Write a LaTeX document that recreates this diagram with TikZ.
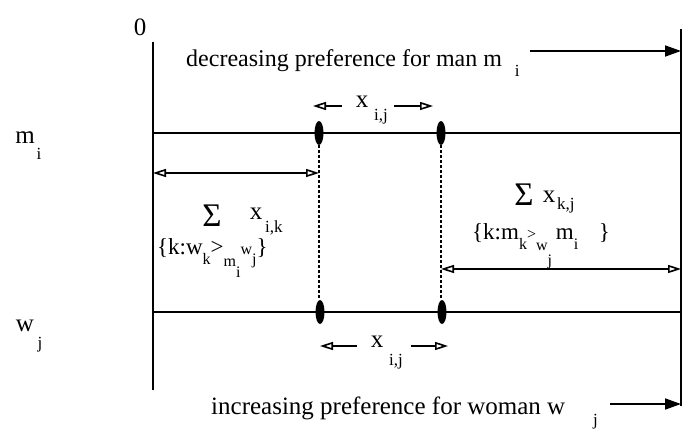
\documentclass[tikz,border=0pt]{standalone}
\usepackage{fontspec}
\setmainfont{Liberation Serif}
\usetikzlibrary{arrows.meta,shapes.geometric}
\newcommand\lo[2][0.4em]{\raisebox{-#1}{\fontsize{16}{16}\selectfont #2}}
\begin{document}
\begin{tikzpicture}[x=1pt,y=-1pt,
  lab/.style={font=\fontsize{24}{27}\selectfont, inner sep=0pt},
  biglab/.style={font=\fontsize{25}{28}\selectfont, inner sep=0pt},
  clab/.style={font=\fontsize{23}{26}\selectfont, inner sep=0pt},
  sublab/.style={font=\fontsize{17}{19}\selectfont, inner sep=0pt},
  siglab/.style={font=\fontsize{33}{35}\selectfont, inner sep=0pt},
  axis/.style={line width=1.8pt},
  blob/.style={ellipse, fill=black, minimum width=9pt, minimum height=24pt, inner sep=0pt},
  dots/.style={line width=1.8pt, dash pattern=on 2.5pt off 2.5pt},
  dbl/.style={line width=1.6pt, {Triangle[open,length=13pt,width=8pt,line width=1.6pt]}-{Triangle[open,length=13pt,width=8pt,line width=1.6pt]}},
  oarr/.style={line width=1.6pt, -{Triangle[open,length=13pt,width=8pt,line width=1.6pt]}},
  farr/.style={line width=1.8pt, -{Triangle[length=16pt,width=11pt]}}]
\useasboundingbox (0,0) rectangle (687,435);
% frame lines
\coordinate (L0) at (153,42);  \coordinate (L1) at (153,390);
\coordinate (R0) at (681,29);  \coordinate (R1) at (681,406);
\coordinate (TL) at (153,133); \coordinate (TR) at (681,133);
\coordinate (BL) at (153,312); \coordinate (BR) at (681,312);
\draw[axis] (L0) -- (L1);
\draw[axis] (R0) -- (R1);
\draw[axis] (TL) -- (TR);
\draw[axis] (BL) -- (BR);
% blobs
\node[blob] (e1) at (319,133) {};
\node[blob] (e2) at (441,133) {};
\node[blob] (e3) at (320,312) {};
\node[blob] (e4) at (442,312) {};
\draw[dots] (e1.south) -- (e1.south |- e3.north);
\draw[dots] (e2.south) -- (e2.south |- e4.north);
% double arrows
\coordinate (la) at (153,173);
\draw[dbl] (la) -- (la -| e1);
\coordinate (ra) at (681,269);
\draw[dbl] (ra -| e2) -- (ra);
% labels left
\node[biglab] (zero) at (140,27) {0};
\node[biglab] (mm) at (25,138) {m};
\node[sublab] (mi) at (39,154) {i};
\node[biglab] (ww) at (25,326) {w};
\node[sublab] (wj) at (40,345) {j};
% top text
\node[lab, anchor=base west] (dec) at (186,67) {decreasing preference for man m};
\node[sublab, anchor=base] (deci) at ([xshift=15pt,yshift=-10pt]dec.base east) {i};
\coordinate (ta) at ([xshift=10pt]deci.east |- 0,51);
\draw[farr] (ta) -- (ta -| R0);
% bottom text
\node[biglab, anchor=base west] (inc) at (211,414) {increasing preference for woman w};
\node[sublab, anchor=base] (incj) at ([xshift=30pt,yshift=-11pt]inc.base east) {j};
\coordinate (ba) at ([xshift=12pt]incj.east |- 0,404);
\draw[farr] (ba) -- (ba -| R1);
% top x_{i,j}
\node[biglab] (xt) at (362,102) {x};
\node[sublab, anchor=west] (xtij) at (374,117) {i,j};
\coordinate (xtl) at (313,106);
\coordinate (xtr) at (433,106);
\draw[oarr] ([xshift=-14pt]xt.west |- xtl) -- (xtl);
\draw[oarr] ([xshift=6pt]xtij.east |- xtr) -- (xtr);
% bottom x_{i,j}
\node[biglab] (xb) at (377,342) {x};
\node[sublab, anchor=west] (xbij) at (389,362) {i,j};
\coordinate (xbl) at (320,346);
\coordinate (xbr) at (448,346);
\draw[oarr] ([xshift=-14pt]xb.west |- xbl) -- (xbl);
\draw[oarr] ([xshift=8pt]xbij.east |- xbr) -- (xbr);
% left sum
\node[siglab] (s1) at (212,216) {Σ};
\node[biglab] (x1) at (256,214) {x};
\node[sublab, anchor=west] (x1s) at (265,228) {i,k};
\node[clab, anchor=base west] (c1) at (157,255) {\{k:w\lo{k}>\lo[0.5em]{m}\lo[1.0em]{i}\lo[0em]{w}\lo{j}\}};
% right sum
\node[siglab] (s2) at (524,195) {Σ};
\node[biglab] (x2) at (549,197) {x};
\node[sublab, anchor=west] (x2s) at (557,205) {k,j};
\node[clab, anchor=base west] (c2) at (472,240) {\{k:m\lo{k}\lo[0em]{>}\lo[0.45em]{w}\lo[1.1em]{j}\,m\lo{i}\hspace{0.9em}\}};
\end{tikzpicture}
\end{document}
